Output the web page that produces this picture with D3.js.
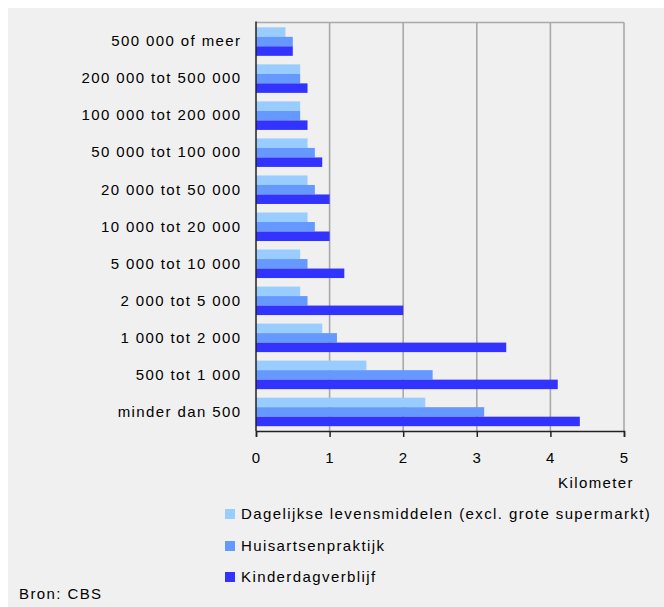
<!DOCTYPE html>
<html>
<head>
<meta charset="utf-8">
<script src="https://cdn.jsdelivr.net/npm/d3@7"></script>
<style>
  html, body { margin: 0; padding: 0; background: #fff; }
  svg text { font-family: "Liberation Sans", Arial, sans-serif; font-size: 15px; letter-spacing: 1.4px; fill: #000; }
</style>
</head>
<body>
<svg id="chart" width="664" height="607"></svg>
<script>
// Gemeentegrootte (aantal inwoners), van groot naar klein
const categories = [
  "500 000 of meer",
  "200 000 tot 500 000",
  "100 000 tot 200 000",
  "50 000 tot 100 000",
  "20 000 tot 50 000",
  "10 000 tot 20 000",
  "5 000 tot 10 000",
  "2 000 tot 5 000",
  "1 000 tot 2 000",
  "500 tot 1 000",
  "minder dan 500"
];

const seriesNames = [
  "Dagelijkse levensmiddelen (excl. grote supermarkt)",
  "Huisartsenpraktijk",
  "Kinderdagverblijf"
];

// Gemiddelde afstand in kilometer
const dagelijkseLevensmiddelen = [0.4, 0.6, 0.6, 0.7, 0.7, 0.7, 0.6, 0.6, 0.9, 1.5, 2.3];
const huisartsenpraktijk       = [0.5, 0.6, 0.6, 0.8, 0.8, 0.8, 0.7, 0.7, 1.1, 2.4, 3.1];
const kinderdagverblijf        = [0.5, 0.7, 0.7, 0.9, 1.0, 1.0, 1.2, 2.0, 3.4, 4.1, 4.4];

const xTicks = [0, 1, 2, 3, 4, 5];
const seriesColors = ["#99ccff", "#6699ff", "#3333ff"];

const seriesValues = [dagelijkseLevensmiddelen, huisartsenpraktijk, kinderdagverblijf];
const rows = categories.map((c, i) => ({
  category: c,
  values: seriesNames.map((s, j) => ({ series: s, value: seriesValues[j][i] }))
}));

const svg = d3.select("#chart");
const W = 664, H = 607;

// panel background
svg.append("rect").attr("x", 8).attr("y", 8).attr("width", W - 8).attr("height", H - 8).attr("fill", "#f0f0f0");

const plot = { left: 256, right: 624, top: 22.5, bottom: 431 };

const x = d3.scaleLinear().domain([0, 5]).range([plot.left, plot.right]);
const y = d3.scaleBand().domain(categories).range([plot.top, plot.bottom])
  .paddingInner(0.23).paddingOuter(0.13);
const ySub = d3.scaleBand().domain(seriesNames).range([0, y.bandwidth()]);
const color = d3.scaleOrdinal().domain(seriesNames).range(seriesColors);

// gridlines
svg.append("g").selectAll("line").data(xTicks.slice(1)).join("line")
  .attr("x1", d => x(d)).attr("x2", d => x(d))
  .attr("y1", plot.top).attr("y2", plot.bottom)
  .attr("stroke", "#a9a9a9").attr("stroke-width", 1.6);

// top frame line
svg.append("line")
  .attr("x1", plot.left).attr("x2", plot.right)
  .attr("y1", plot.top).attr("y2", plot.top)
  .attr("stroke", "#a9a9a9").attr("stroke-width", 1.6);

// bars
const groups = svg.append("g").selectAll("g").data(rows).join("g")
  .attr("transform", d => `translate(0,${y(d.category)})`);
groups.selectAll("rect").data(d => d.values).join("rect")
  .attr("x", x(0))
  .attr("y", d => ySub(d.series))
  .attr("width", d => x(d.value) - x(0))
  .attr("height", ySub.bandwidth())
  .attr("fill", d => color(d.series));

// category axis
const yAxis = svg.append("g").attr("transform", `translate(${plot.left},0)`)
  .call(d3.axisLeft(y).tickSize(0).tickPadding(14.5));
yAxis.select(".domain").remove();
yAxis.selectAll("text").attr("fill", "#000").attr("font-family", null);

svg.append("line")
  .attr("x1", plot.left).attr("x2", plot.left)
  .attr("y1", plot.top - 1).attr("y2", plot.bottom)
  .attr("stroke", "#222").attr("stroke-width", 1.5);

// value axis
const xAxis = svg.append("g").attr("transform", `translate(0,${plot.bottom})`)
  .call(d3.axisBottom(x).tickValues(xTicks).tickFormat(d3.format("d")).tickSize(6).tickPadding(15));
xAxis.select(".domain").attr("stroke", "#222").attr("stroke-width", 1.5);
xAxis.selectAll(".tick line").attr("stroke", "#222").attr("stroke-width", 1.5);
xAxis.selectAll("text").attr("fill", "#000").attr("font-family", null);

svg.append("text").attr("x", 634).attr("y", 488).attr("text-anchor", "end").text("Kilometer");

// legend
const legendY = [514, 546, 577];
const legend = svg.append("g").selectAll("g").data(seriesNames).join("g")
  .attr("transform", (d, i) => `translate(225,${legendY[i]})`);
legend.append("rect").attr("x", 0).attr("y", -5).attr("width", 10).attr("height", 10)
  .attr("fill", d => color(d));
legend.append("text").attr("x", 16).attr("dy", "0.36em").text(d => d);

svg.append("text").attr("x", 19).attr("y", 594).attr("dy", "0.36em").text("Bron: CBS");
</script>
</body>
</html>
